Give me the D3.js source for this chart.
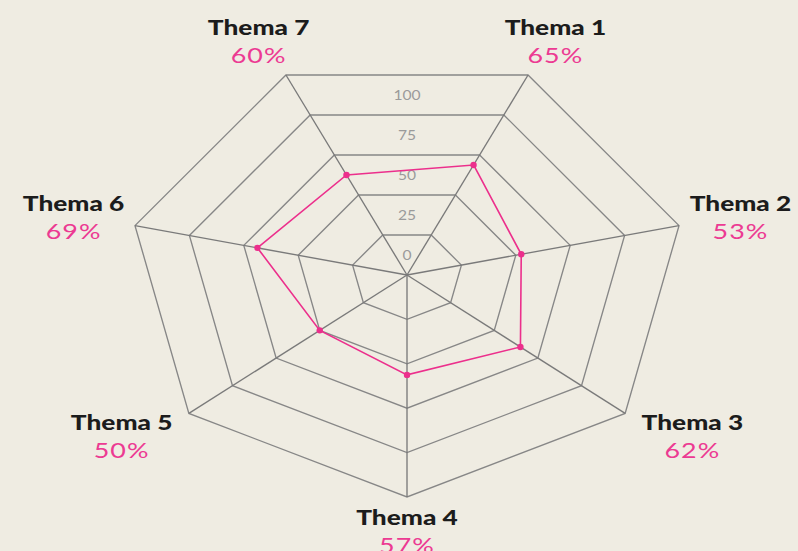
<!DOCTYPE html>
<html><head><meta charset="utf-8">
<script src="https://cdn.jsdelivr.net/npm/d3@7/dist/d3.min.js"></script>
<style>
html,body{margin:0;padding:0;background:#efece2;}
svg{display:block;}
</style></head>
<body>
<svg id="c" width="798" height="551"></svg>
<script>
// Data
const categories = ["Thema 1","Thema 2","Thema 3","Thema 4","Thema 5","Thema 6","Thema 7"];
const percentLabels = ["65%","53%","62%","57%","50%","69%","60%"];
// plotted radius (0-100 of the outer ring)
const values = [55, 42, 52, 45, 40, 55, 50];
const ringLevels = [20, 40, 60, 80, 100];
const tickLabels = ["0","25","50","75","100"];

const W = 798, H = 551;
const cx = 407, cy = 275;
const Rx = 279, Ry = 222;
const svg = d3.select("#c");
svg.append("rect").attr("width", W).attr("height", H).attr("fill", "#efece2");

const n = categories.length;
const angle = d3.scaleLinear().domain([0, n]).range([Math.PI / n, Math.PI / n + 2 * Math.PI]);
const rX = d3.scaleLinear().domain([0, 100]).range([0, Rx]);
const rY = d3.scaleLinear().domain([0, 100]).range([0, Ry]);
const px = (i, v) => cx + rX(v) * Math.sin(angle(i));
const py = (i, v) => cy - rY(v) * Math.cos(angle(i));

const g = svg.append("g");
// rings
ringLevels.forEach(lv => {
  const pts = d3.range(n).map(i => [px(i, lv), py(i, lv)]);
  g.append("path")
    .attr("d", d3.line().curve(d3.curveLinearClosed)(pts))
    .attr("fill", "none").attr("stroke", "#878787").attr("stroke-width", 1.35);
});
// axes
d3.range(n).forEach(i => {
  g.append("line")
    .attr("x1", cx).attr("y1", cy)
    .attr("x2", px(i, 100)).attr("y2", py(i, 100))
    .attr("stroke", "#7a7a7a").attr("stroke-width", 1.35);
});
// tick labels in band middles
tickLabels.forEach((t, k) => {
  const lv = (ringLevels[k] - 10);
  g.append("text")
    .attr("transform", `translate(${cx},${cy - rY(lv) * Math.cos(Math.PI / n) + 5}) scale(1.25,1)`)
    .attr("text-anchor", "middle")
    .attr("font-family", "Lato, 'DejaVu Sans', sans-serif")
    .attr("font-size", 12.5)
    .attr("fill", "#9a9a9a")
    .text(t);
});
// data polygon
const dataPts = values.map((v, i) => [px(i, v), py(i, v)]);
g.append("path")
  .attr("d", d3.line().curve(d3.curveLinearClosed)(dataPts))
  .attr("fill", "none").attr("stroke", "#ec2f8c").attr("stroke-width", 1.6);
g.selectAll("circle.pt").data(dataPts).enter().append("circle")
  .attr("cx", d => d[0]).attr("cy", d => d[1]).attr("r", 3.2)
  .attr("fill", "#ec2f8c");

// category labels
categories.forEach((c, i) => {
  const a = angle(i);
  const s = Math.sin(a), co = Math.cos(a);
  const lx = px(i, 100) + s * (co < 0 ? 86 : 63);
  const ly = py(i, 100) + (co < 0 ? -co * 30 + 4 : -co * 38);
  const lg = svg.append("g").attr("transform", `translate(${lx},${ly}) scale(1.28,1)`);
  lg.append("text")
    .attr("y", -6)
    .attr("text-anchor", "middle")
    .attr("font-family", "Lato, sans-serif")
    .attr("font-weight", 900)
    .attr("font-size", 20.5)
    .attr("fill", "#1c1c1c")
    .text(c);
  lg.append("text")
    .attr("y", 22)
    .attr("text-anchor", "middle")
    .attr("font-family", "Lato, sans-serif")
    .attr("font-weight", 400)
    .attr("font-size", 21)
    .attr("letter-spacing", 0.8)
    .attr("fill", "#ec3a92")
    .text(percentLabels[i]);
});
</script>
</body></html>
